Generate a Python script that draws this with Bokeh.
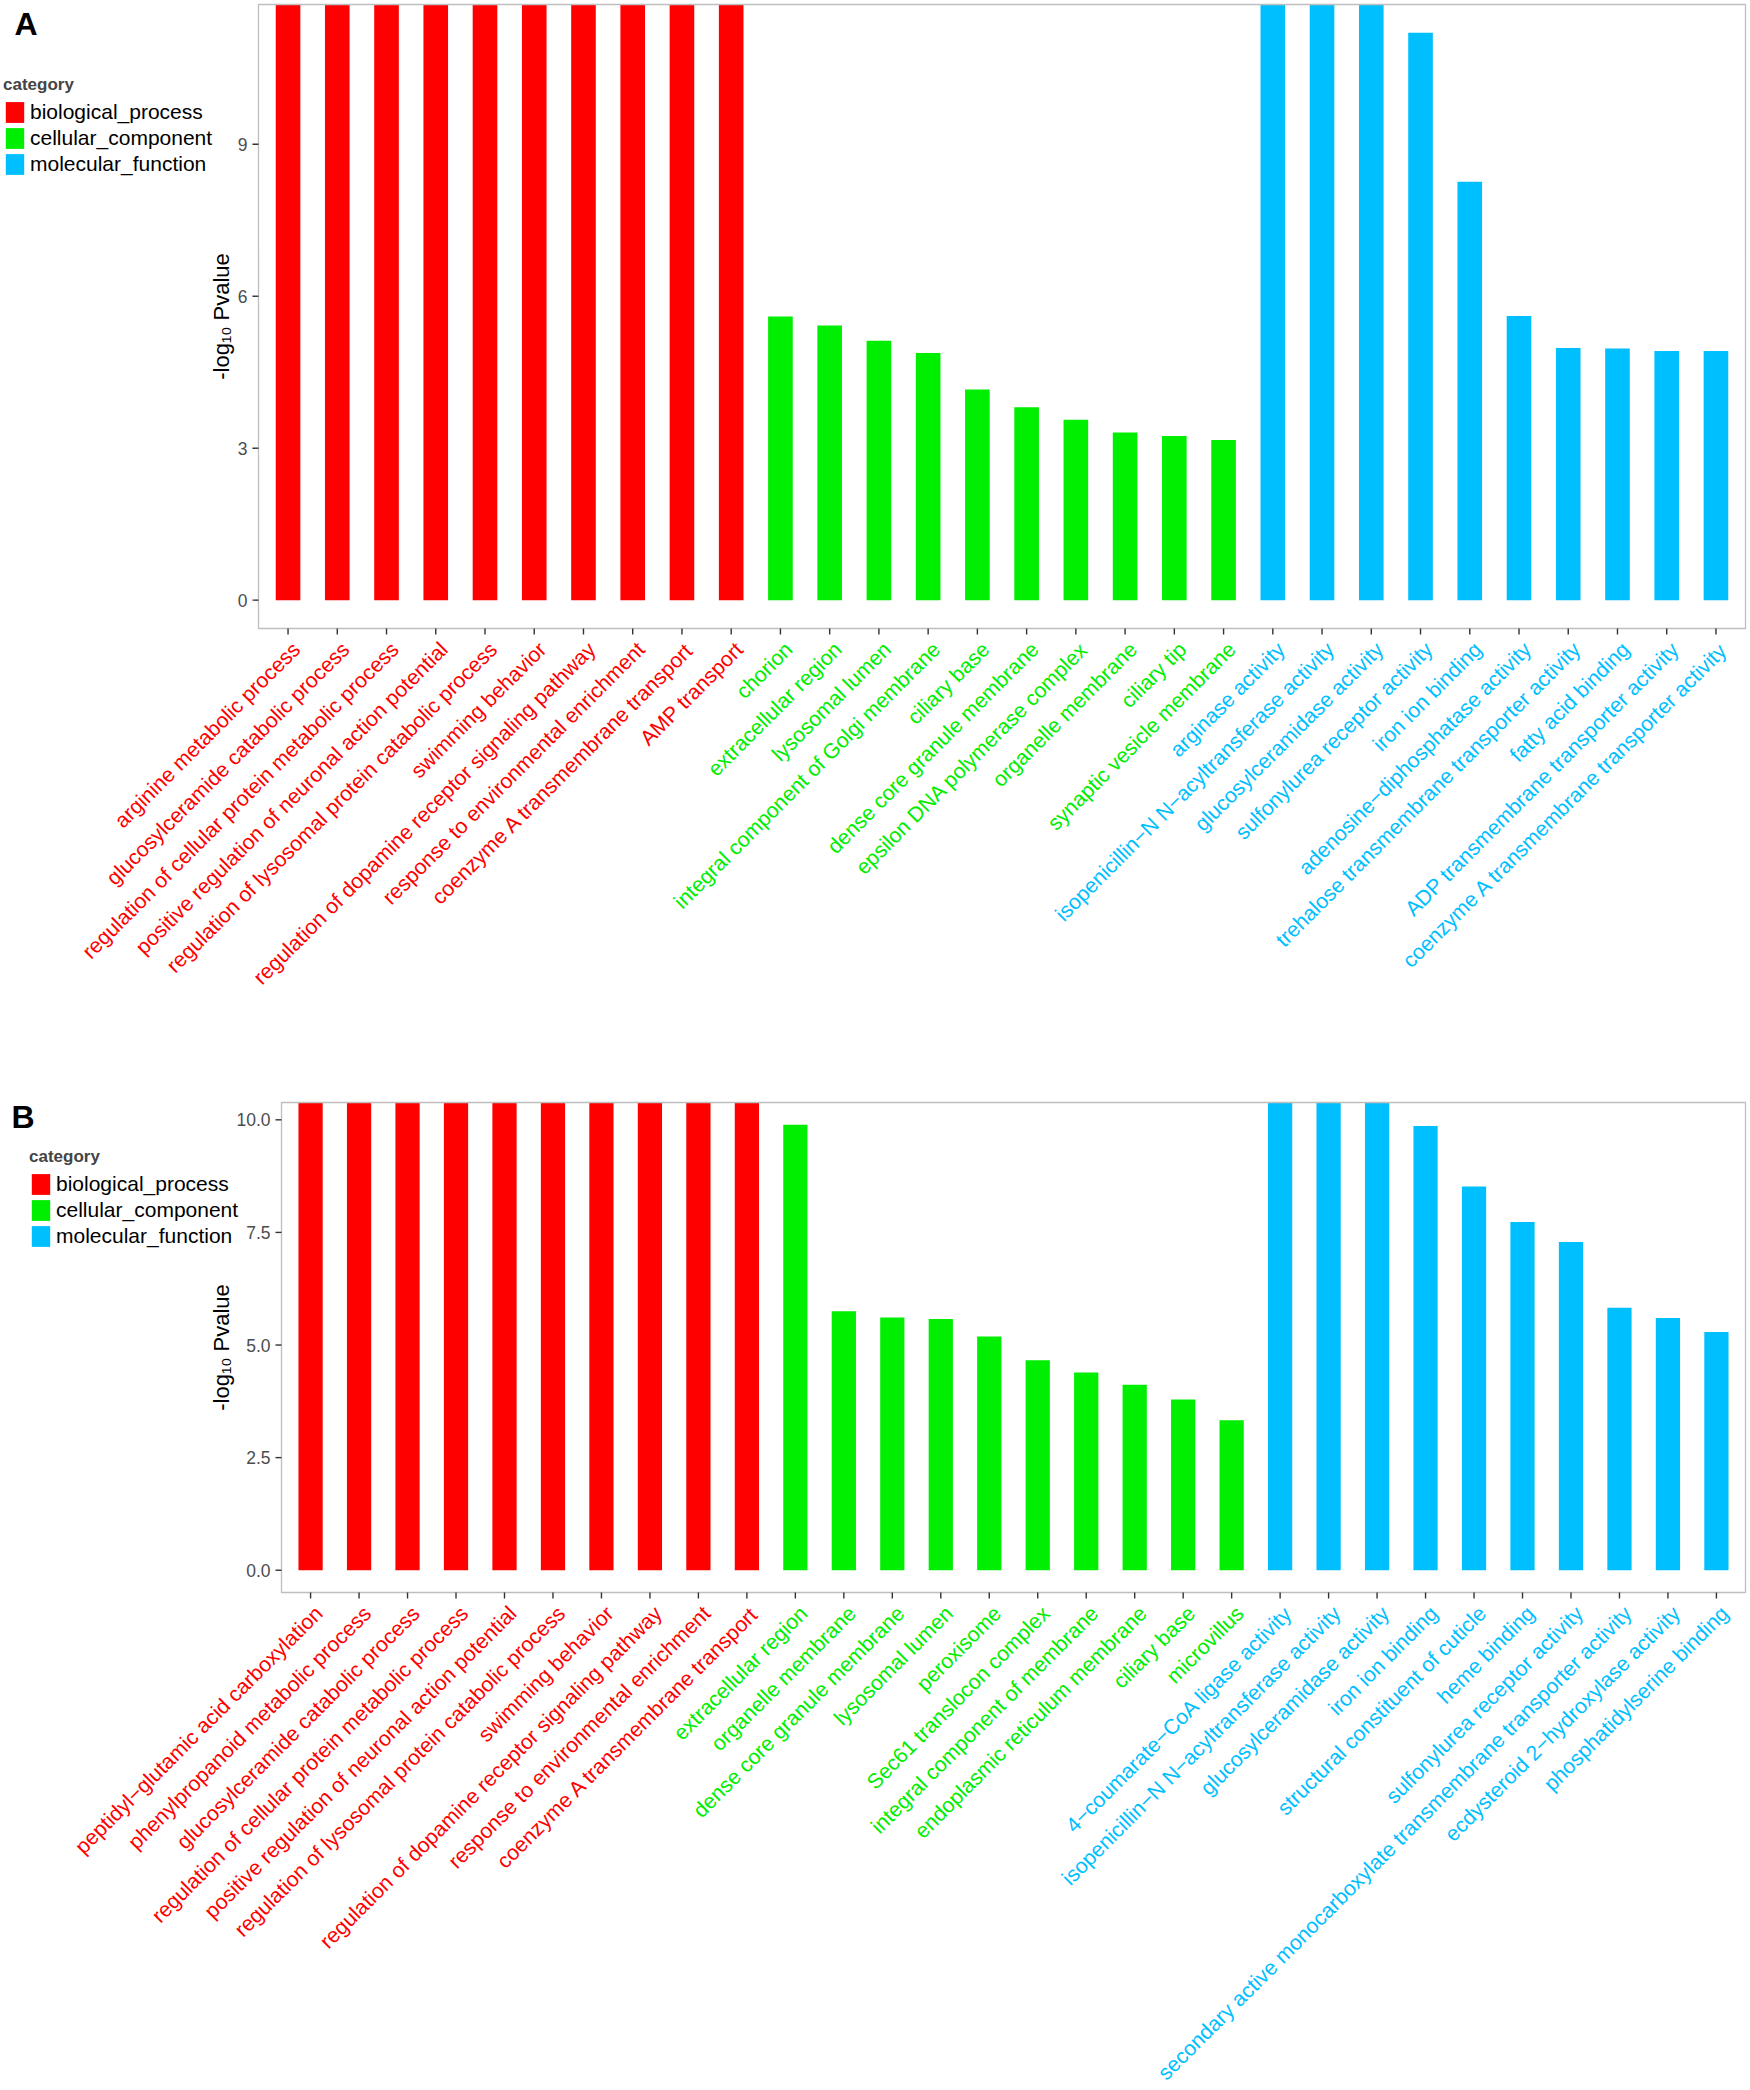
import math
from bokeh.plotting import figure
from bokeh.models import ColumnDataSource, Range1d, Legend, LegendItem
from bokeh.core.properties import value
from bokeh.layouts import column
from bokeh.embed import file_html
from bokeh.resources import INLINE

INF = float("inf")
FONT = "Liberation Sans"

CATEGORIES = ["biological_process", "cellular_component", "molecular_function"]
CAT_COLORS = ["#FF0000", "#00EE00", "#00BFFF"]
Y_TITLE = "-log\u2081\u2080 Pvalue"

# ---------------- Panel A ----------------
a_bp_terms = ["arginine metabolic process", "glucosylceramide catabolic process",
              "regulation of cellular protein metabolic process",
              "positive regulation of neuronal action potential",
              "regulation of lysosomal protein catabolic process", "swimming behavior",
              "regulation of dopamine receptor signaling pathway",
              "response to environmental enrichment", "coenzyme A transmembrane transport",
              "AMP transport"]
a_bp_values = [INF, INF, INF, INF, INF, INF, INF, INF, INF, INF]
a_cc_terms = ["chorion", "extracellular region", "lysosomal lumen",
              "integral component of Golgi membrane", "ciliary base",
              "dense core granule membrane", "epsilon DNA polymerase complex",
              "organelle membrane", "ciliary tip", "synaptic vesicle membrane"]
a_cc_values = [5.60, 5.42, 5.12, 4.88, 4.16, 3.81, 3.56, 3.31, 3.24, 3.16]
a_mf_terms = ["arginase activity", "isopenicillin\u2212N N\u2212acyltransferase activity",
              "glucosylceramidase activity", "sulfonylurea receptor activity",
              "iron ion binding", "adenosine\u2212diphosphatase activity",
              "trehalose transmembrane transporter activity", "fatty acid binding",
              "ADP transmembrane transporter activity",
              "coenzyme A transmembrane transporter activity"]
a_mf_values = [INF, INF, INF, 11.20, 8.26, 5.61, 4.98, 4.97, 4.92, 4.92]
a_yticks = [0, 3, 6, 9]
a_ytick_labels = ["0", "3", "6", "9"]

# ---------------- Panel B ----------------
b_bp_terms = ["peptidyl\u2212glutamic acid carboxylation", "phenylpropanoid metabolic process",
              "glucosylceramide catabolic process",
              "regulation of cellular protein metabolic process",
              "positive regulation of neuronal action potential",
              "regulation of lysosomal protein catabolic process", "swimming behavior",
              "regulation of dopamine receptor signaling pathway",
              "response to environmental enrichment", "coenzyme A transmembrane transport"]
b_bp_values = [INF, INF, INF, INF, INF, INF, INF, INF, INF, INF]
b_cc_terms = ["extracellular region", "organelle membrane", "dense core granule membrane",
              "lysosomal lumen", "peroxisome", "Sec61 translocon complex",
              "integral component of membrane", "endoplasmic reticulum membrane",
              "ciliary base", "microvillus"]
b_cc_values = [9.89, 5.75, 5.61, 5.58, 5.19, 4.66, 4.39, 4.12, 3.79, 3.33]
b_mf_terms = ["4\u2212coumarate\u2212CoA ligase activity",
              "isopenicillin\u2212N N\u2212acyltransferase activity",
              "glucosylceramidase activity", "iron ion binding",
              "structural constituent of cuticle", "heme binding",
              "sulfonylurea receptor activity",
              "secondary active monocarboxylate transmembrane transporter activity",
              "ecdysteroid 2\u2212hydroxylase activity", "phosphatidylserine binding"]
b_mf_values = [INF, INF, INF, 9.86, 8.52, 7.73, 7.29, 5.83, 5.60, 5.29]
b_yticks = [0, 2.5, 5, 7.5, 10]
b_ytick_labels = ["0.0", "2.5", "5.0", "7.5", "10.0"]

TICK_COLOR = "#333333"
TICK_LEN = 6


def make_panel(groups, yticks, ytick_labels, letter, W, H, L, R, T, Bt,
               title_x, legend_xy, letter_xy):
    """L, R, T, Bt: panel (inner plotting area) edges in canvas pixels."""
    n_total = sum(len(t) for t, _ in groups)
    finite = [v for _, vals in groups for v in vals if math.isfinite(v)]
    top_val = max(finite)
    y0, y1 = -0.05 * top_val, 1.05 * top_val          # continuous expansion
    x0, x1 = -0.6, n_total - 1 + 0.6                   # discrete expansion
    kx = (R - L) / (x1 - x0)
    ky = (Bt - T) / (y1 - y0)

    def X(px):
        return x0 + (px - L) / kx

    def Y(py):
        return y0 + (Bt - py) / ky

    p = figure(width=W, height=H, x_range=Range1d(X(0), X(W)),
               y_range=Range1d(Y(H), Y(0)), min_border=0,
               x_axis_location=None, y_axis_location=None,
               output_backend="svg", toolbar_location=None,
               background_fill_color="white", border_fill_color="white")
    p.outline_line_color = None
    p.xgrid.grid_line_color = None
    p.ygrid.grid_line_color = None

    items = []
    pos_all, terms_all, colors_all = [], [], []
    start = 0
    for (terms, vals), name, color in zip(groups, CATEGORIES, CAT_COLORS):
        pos = list(range(start, start + len(terms)))
        tops = [min(v, y1) for v in vals]
        src = ColumnDataSource(dict(x=pos, top=tops, term=terms))
        r = p.vbar(x="x", top="top", bottom=0, width=0.5, source=src,
                   fill_color=color, line_color=None)
        items.append(LegendItem(label=name, renderers=[r]))
        pos_all += pos
        terms_all += terms
        colors_all += [color] * len(terms)
        start += len(terms)

    # panel border
    p.quad(left=[x0], right=[x1], bottom=[y0], top=[y1], fill_color=None,
           line_color="#BEBEBE", line_width=1.3)

    # x ticks and coloured, rotated category labels
    n = len(pos_all)
    p.segment(x0=pos_all, x1=pos_all, y0=[y0] * n, y1=[Y(Bt + TICK_LEN)] * n,
              line_color=TICK_COLOR, line_width=1.4)
    lab_src = ColumnDataSource(dict(x=pos_all, y=[Y(Bt + TICK_LEN + 3)] * n,
                                    text=terms_all, tcolor=colors_all))
    p.text(x="x", y="y", text="text", source=lab_src, text_color="tcolor",
           angle=45, angle_units="deg", text_align="right", text_baseline="top",
           text_font=value(FONT), text_font_size="21.2px")

    # y ticks, tick labels and title
    k = len(yticks)
    p.segment(x0=[x0] * k, x1=[X(L - TICK_LEN)] * k, y0=yticks, y1=yticks,
              line_color=TICK_COLOR, line_width=1.4)
    p.text(x=[X(L - TICK_LEN - 5)] * k, y=yticks, text=ytick_labels,
           text_align="right", text_baseline="middle", text_color="#4D4D4D",
           text_font=value(FONT), text_font_size="17.5px")
    p.text(x=[X(title_x)], y=[(y0 + y1) / 2], text=[Y_TITLE], angle=90,
           angle_units="deg", text_align="center", text_baseline="middle",
           text_color="black", text_font=value(FONT), text_font_size="22px")

    # panel letter
    p.text(x=[X(letter_xy[0])], y=[Y(letter_xy[1])], text=[letter],
           text_align="left", text_baseline="alphabetic", text_color="black",
           text_font=value(FONT), text_font_style="bold", text_font_size="32px")

    legend = Legend(items=items, location=legend_xy, title="category",
                    title_text_font=FONT, title_text_font_style="bold",
                    title_text_font_size="17px", title_standoff=4,
                    label_text_font=FONT, label_text_font_size="21px",
                    label_text_color="black",
                    glyph_width=23, glyph_height=26, label_height=26, spacing=0,
                    padding=0, margin=0, label_standoff=4,
                    border_line_color=None, background_fill_alpha=0)
    p.add_layout(legend)
    return p


# canvas geometry (pixels); panel A starts at the top of the page, B below it
W, HA, HB = 1748, 993, 1093
pA = make_panel([(a_bp_terms, a_bp_values), (a_cc_terms, a_cc_values),
                 (a_mf_terms, a_mf_values)], a_yticks, a_ytick_labels, "A",
                W=W, H=HA, L=258, R=1745, T=4, Bt=628, title_x=221,
                legend_xy=(3, HA - 177), letter_xy=(14, 23))
pB = make_panel([(b_bp_terms, b_bp_values), (b_cc_terms, b_cc_values),
                 (b_mf_terms, b_mf_values)], b_yticks, b_ytick_labels, "B",
                W=W, H=HB, L=281, R=1745, T=109, Bt=599, title_x=221,
                legend_xy=(29, HB - 256), letter_xy=(11, 123))

layout = column(pA, pB, spacing=0)
open("out.html", "w").write(file_html(layout, INLINE))
